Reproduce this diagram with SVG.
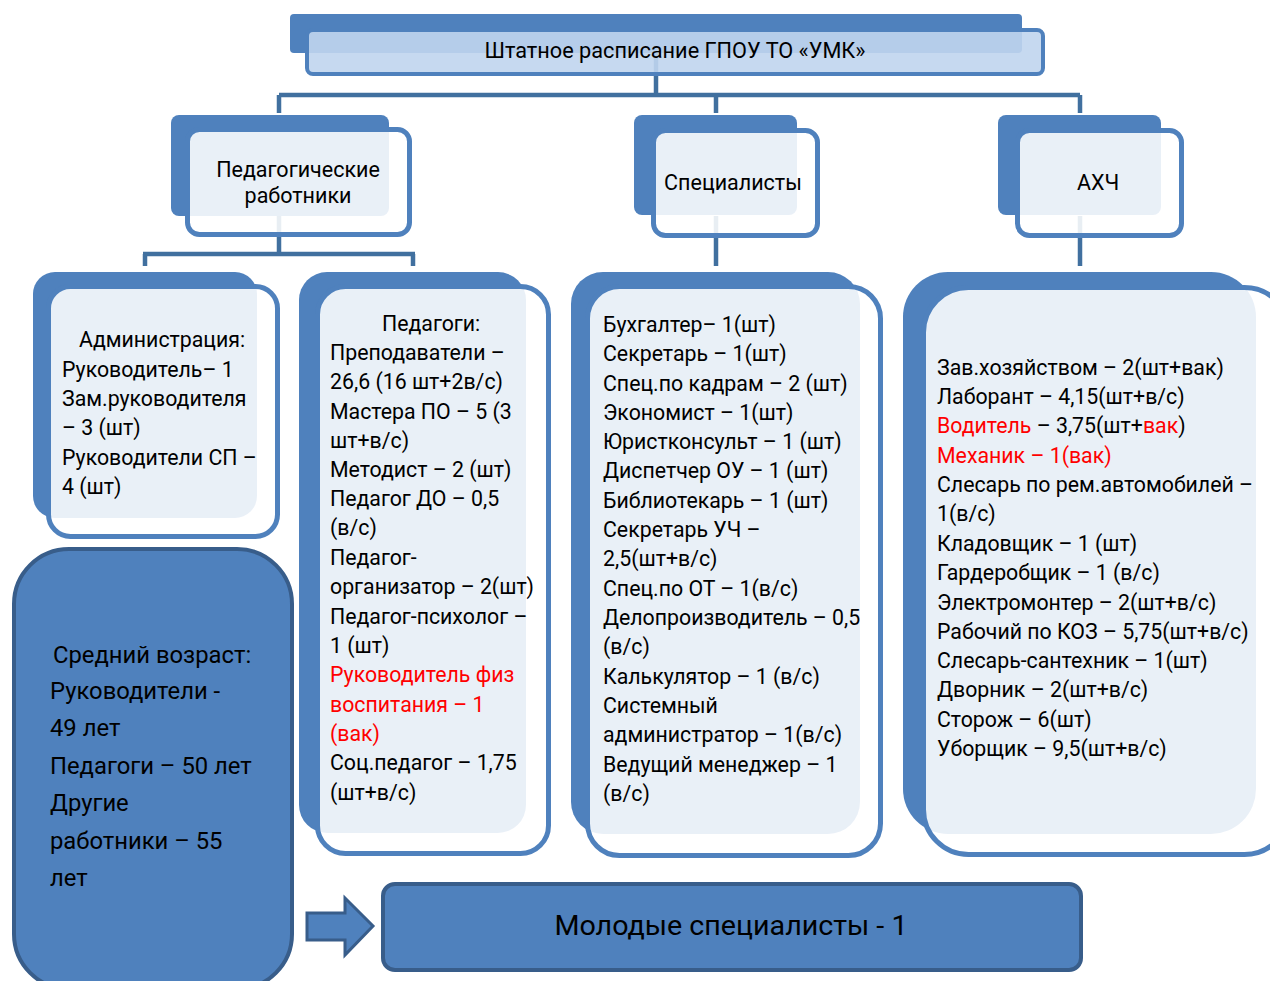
<svg xmlns="http://www.w3.org/2000/svg" width="1270" height="981" viewBox="0 0 1270 981">
<style>
.back{fill:#4F81BD}
.front{fill:#FFFFFF;fill-opacity:0.88;stroke:#4F81BD;stroke-width:5}
.tfront{fill:rgb(192,213,238);fill-opacity:0.9;stroke:#4F81BD;stroke-width:4}
.solid{fill:#4F81BD;stroke:#385D8A;stroke-width:4}
.conn{stroke:#41709F;stroke-width:4.5;fill:none}
text{font-family:Roboto,"Noto Sans","Liberation Sans",sans-serif;fill:#000}
.t{font-size:21.3px}
.h{font-size:21.5px;text-anchor:middle}
.big{font-size:23.8px}
.red{fill:#FF0000}
</style>
<g id="connectors">
<path class="conn" d="M656,53 V95 M279,95 H1080 M279,95 V113 M716,95 V113 M1080,95 V113"/>
<path class="conn" d="M279,216 V254 M143,254 H415 M145,254 V266 M413,254 V266"/>
<path class="conn" d="M716,216 V266 M1080,216 V266"/>
</g>
<g id="title">
<rect class="back" x="290" y="14" width="732" height="39" rx="4"/>
<rect class="tfront" x="307" y="30" width="736" height="44" rx="6"/>
<text x="675" y="58" text-anchor="middle" font-size="22" textLength="381" lengthAdjust="spacingAndGlyphs">Штатное расписание ГПОУ ТО «УМК»</text>
</g>
<g id="ped-workers">
<rect class="back" x="171" y="115" width="218" height="101" rx="8"/>
<rect class="front" x="187.5" y="129.5" width="222" height="105" rx="12"/>
<text class="h" x="298" y="177">Педагогические</text>
<text class="h" x="298" y="203">работники</text>
</g>
<g id="specialists">
<rect class="back" x="634" y="115" width="163" height="100" rx="8"/>
<rect class="front" x="653.5" y="130.5" width="164" height="105" rx="12"/>
<text class="h" x="733" y="190">Специалисты</text>
</g>
<g id="ahch">
<rect class="back" x="998" y="115" width="163" height="100" rx="8"/>
<rect class="front" x="1017.5" y="130.5" width="164" height="105" rx="12"/>
<text class="h" x="1098" y="190">АХЧ</text>
</g>
<g id="admin">
<rect class="back" x="33" y="272" width="224" height="246" rx="22"/>
<rect class="front" x="48.5" y="286.5" width="229" height="250" rx="22"/>
<text class="t" x="79" y="347">Администрация:</text>
<text class="t" x="62" y="377">Руководитель– 1</text>
<text class="t" x="62" y="406">Зам.руководителя</text>
<text class="t" x="62" y="435">– 3 (шт)</text>
<text class="t" x="62" y="465">Руководители СП –</text>
<text class="t" x="62" y="494">4 (шт)</text>
</g>
<g id="pedagogues">
<rect class="back" x="299" y="272" width="227" height="561" rx="28"/>
<rect class="front" x="317.5" y="286.5" width="231" height="567" rx="28"/>
<text class="t" x="382" y="331">Педагоги:</text>
<text class="t" x="330" y="360">Преподаватели –</text>
<text class="t" x="330" y="389">26,6 (16 шт+2в/с)</text>
<text class="t" x="330" y="419">Мастера ПО – 5 (3</text>
<text class="t" x="330" y="448">шт+в/с)</text>
<text class="t" x="330" y="477">Методист – 2 (шт)</text>
<text class="t" x="330" y="506">Педагог ДО – 0,5</text>
<text class="t" x="330" y="535">(в/с)</text>
<text class="t" x="330" y="565">Педагог-</text>
<text class="t" x="330" y="594">организатор – 2(шт)</text>
<text class="t" x="330" y="624">Педагог-психолог –</text>
<text class="t" x="330" y="653">1 (шт)</text>
<text class="t red" x="330" y="682">Руководитель физ</text>
<text class="t red" x="330" y="712">воспитания – 1</text>
<text class="t red" x="330" y="741">(вак)</text>
<text class="t" x="330" y="770">Соц.педагог – 1,75</text>
<text class="t" x="330" y="800">(шт+в/с)</text>
</g>
<g id="specialists-list">
<rect class="back" x="571" y="272" width="289" height="562" rx="32"/>
<rect class="front" x="587.5" y="286.5" width="293" height="569" rx="32"/>
<text class="t" x="603" y="332">Бухгалтер– 1(шт)</text>
<text class="t" x="603" y="361">Секретарь – 1(шт)</text>
<text class="t" x="603" y="391">Спец.по кадрам – 2 (шт)</text>
<text class="t" x="603" y="420">Экономист – 1(шт)</text>
<text class="t" x="603" y="449">Юристконсульт – 1 (шт)</text>
<text class="t" x="603" y="478">Диспетчер ОУ – 1 (шт)</text>
<text class="t" x="603" y="508">Библиотекарь – 1 (шт)</text>
<text class="t" x="603" y="537">Секретарь УЧ –</text>
<text class="t" x="603" y="566">2,5(шт+в/с)</text>
<text class="t" x="603" y="596">Спец.по ОТ – 1(в/с)</text>
<text class="t" x="603" y="625">Делопроизводитель – 0,5</text>
<text class="t" x="603" y="654">(в/с)</text>
<text class="t" x="603" y="684">Калькулятор – 1 (в/с)</text>
<text class="t" x="603" y="713">Системный</text>
<text class="t" x="603" y="742">администратор – 1(в/с)</text>
<text class="t" x="603" y="772">Ведущий менеджер – 1</text>
<text class="t" x="603" y="801">(в/с)</text>
</g>
<g id="ahch-list">
<rect class="back" x="903" y="272" width="353" height="562" rx="45"/>
<rect class="front" x="923.5" y="287.5" width="366" height="567" rx="45"/>
<text class="t" x="937" y="375">Зав.хозяйством – 2(шт+вак)</text>
<text class="t" x="937" y="404">Лаборант – 4,15(шт+в/с)</text>
<text class="t" x="937" y="433"><tspan class="red">Водитель</tspan> – 3,75(шт+<tspan class="red">вак</tspan>)</text>
<text class="t red" x="937" y="463">Механик – 1(вак)</text>
<text class="t" x="937" y="492">Слесарь по рем.автомобилей –</text>
<text class="t" x="937" y="521">1(в/с)</text>
<text class="t" x="937" y="551">Кладовщик – 1 (шт)</text>
<text class="t" x="937" y="580">Гардеробщик – 1 (в/с)</text>
<text class="t" x="937" y="610">Электромонтер – 2(шт+в/с)</text>
<text class="t" x="937" y="639">Рабочий по КОЗ – 5,75(шт+в/с)</text>
<text class="t" x="937" y="668">Слесарь-сантехник – 1(шт)</text>
<text class="t" x="937" y="697">Дворник – 2(шт+в/с)</text>
<text class="t" x="937" y="727">Сторож – 6(шт)</text>
<text class="t" x="937" y="756">Уборщик – 9,5(шт+в/с)</text>
</g>
<g id="avg-age">
<rect class="solid" x="14" y="549" width="278" height="440" rx="55"/>
<text class="big" x="53" y="663">Средний возраст:</text>
<text class="big" x="50" y="699">Руководители -</text>
<text class="big" x="50" y="736">49 лет</text>
<text class="big" x="50" y="774">Педагоги – 50 лет</text>
<text class="big" x="50" y="811">Другие</text>
<text class="big" x="50" y="849">работники – 55</text>
<text class="big" x="50" y="886">лет</text>
</g>
<g id="arrow">
<polygon points="307,913 345,913 345,898 373,926 345,955 345,940 307,940" fill="#4F81BD" stroke="#385D8A" stroke-width="3"/>
</g>
<g id="young">
<rect class="solid" x="383" y="884" width="698" height="86" rx="12"/>
<text x="731" y="935" text-anchor="middle" font-size="28" textLength="353" lengthAdjust="spacingAndGlyphs">Молодые специалисты - 1</text>
</g>
</svg>
